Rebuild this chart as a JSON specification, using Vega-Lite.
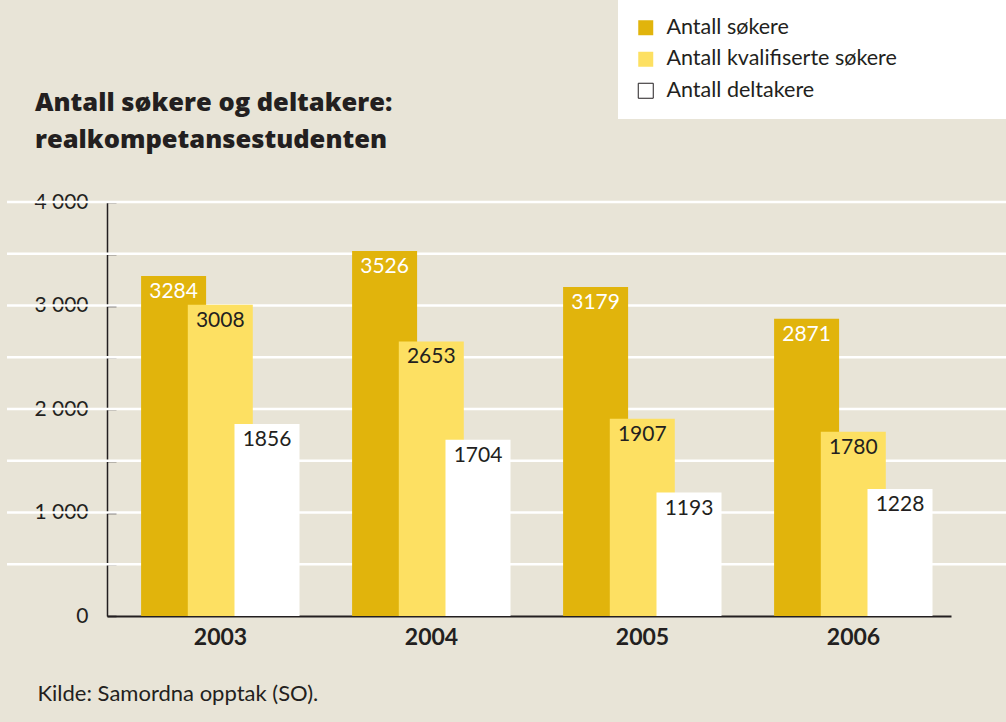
{
  "$schema": "https://vega.github.io/schema/vega-lite/v6.json",
  "width": 999,
  "height": 414,
  "autosize": {"type": "none"},
  "padding": {"left": 7, "top": 202, "right": 0, "bottom": 106},
  "background": "#E8E4D7",
  "config": {
    "view": {"stroke": null},
    "font": "Lato"
  },
  "title": {
    "text": ["Antall søkere og deltakere:", "realkompetansestudenten"],
    "anchor": "start",
    "frame": "group",
    "font": "Open Sans",
    "fontSize": 25.5,
    "fontWeight": 800,
    "color": "#231f20",
    "lineHeight": 37,
    "dx": 28,
    "offset": 20,
    "dy": 173
  },
  "data": {
    "values": [
      {"year": "2003", "series": "Antall søkere", "value": 3284},
      {"year": "2003", "series": "Antall kvalifiserte søkere", "value": 3008},
      {"year": "2003", "series": "Antall deltakere", "value": 1856},
      {"year": "2004", "series": "Antall søkere", "value": 3526},
      {"year": "2004", "series": "Antall kvalifiserte søkere", "value": 2653},
      {"year": "2004", "series": "Antall deltakere", "value": 1704},
      {"year": "2005", "series": "Antall søkere", "value": 3179},
      {"year": "2005", "series": "Antall kvalifiserte søkere", "value": 1907},
      {"year": "2005", "series": "Antall deltakere", "value": 1193},
      {"year": "2006", "series": "Antall søkere", "value": 2871},
      {"year": "2006", "series": "Antall kvalifiserte søkere", "value": 1780},
      {"year": "2006", "series": "Antall deltakere", "value": 1228}
    ]
  },
  "layer": [
    {
      "data": {
        "values": [
          {"level": 500}, {"level": 1000}, {"level": 1500}, {"level": 2000},
          {"level": 2500}, {"level": 3000}, {"level": 3500}, {"level": 4000}
        ]
      },
      "mark": {"type": "rule", "color": "#FFFFFF", "strokeWidth": 2.5},
      "encoding": {
        "y": {"field": "level", "type": "quantitative"}
      }
    },
    {
      "mark": {"type": "bar", "width": 65},
      "encoding": {
        "x": {
          "field": "year",
          "type": "nominal",
          "scale": {"range": [100, 944], "paddingInner": 0, "paddingOuter": 0},
          "axis": {
            "orient": "bottom",
            "domain": true,
            "domainColor": "#231f20",
            "domainWidth": 2,
            "ticks": false,
            "labelAngle": 0,
            "labelFont": "Lato",
            "labelFontSize": 23,
            "labelFontWeight": "bold",
            "labelColor": "#231f20",
            "labelPadding": 10,
            "labelOffset": 8,
            "title": "Kilde: Samordna opptak (SO).",
            "titleFont": "Lato",
            "titleFontSize": 22,
            "titleFontWeight": "normal",
            "titleColor": "#231f20",
            "titleAngle": 0,
            "titleAlign": "left",
            "titleBaseline": "alphabetic",
            "titleAnchor": "start",
            "titleX": 30,
            "titleY": 84
          }
        },
        "xOffset": {
          "field": "series",
          "type": "nominal",
          "sort": ["Antall søkere", "Antall kvalifiserte søkere", "Antall deltakere"],
          "scale": {"paddingInner": 0, "paddingOuter": 0.759, "align": 0.61}
        },
        "y": {
          "field": "value",
          "type": "quantitative",
          "scale": {"domain": [0, 4000], "nice": false},
          "axis": {
            "orient": "left",
            "offset": -100,
            "values": [0, 500, 1000, 1500, 2000, 2500, 3000, 3500, 4000],
            "labelExpr": "datum.value % 1000 == 0 ? replace(format(datum.value, ','), ',', ' ') : ''",
            "grid": false,
            "domainColor": "#231f20",
            "domainWidth": 1.5,
            "tickColor": "#231f20",
            "tickWidth": 1.5,
            "tickSize": -9,
            "labelFont": "Lato",
            "labelFontSize": 21,
            "labelColor": "#231f20",
            "labelPadding": 28,
            "title": null
          }
        },
        "color": {
          "field": "series",
          "type": "nominal",
          "scale": {
            "domain": ["Antall søkere", "Antall kvalifiserte søkere", "Antall deltakere"],
            "range": ["#E1B40C", "#FDE062", "#FFFFFF"]
          },
          "legend": {
            "orient": "none",
            "legendX": 611,
            "legendY": -202,
            "title": null,
            "fillColor": "#FFFFFF",
            "padding": 17,
            "symbolType": "square",
            "symbolSize": 225,
            "symbolStrokeWidth": 1,
            "labelFont": "Lato",
            "labelFontSize": 21.5,
            "labelLimit": 1000,
            "labelColor": "#231f20",
            "labelOffset": 10,
            "rowPadding": 8.5,
            "labelExpr": "indexof(datum.label, 'kvalifiserte') >= 0 ? datum.label + '\u2800\u2800\u2800\u2800\u2800\u2800' : datum.label",
            "encode": {
              "symbols": {
                "update": {
                  "stroke": {"signal": "datum.value == 'Antall deltakere' ? '#231f20' : 'transparent'"}
                }
              }
            }
          }
        }
      }
    },
    {
      "mark": {
        "type": "text",
        "baseline": "top",
        "align": "center",
        "dy": 5,
        "font": "Lato",
        "fontSize": 21
      },
      "encoding": {
        "x": {"field": "year", "type": "nominal"},
        "xOffset": {
          "field": "series",
          "type": "nominal",
          "sort": ["Antall søkere", "Antall kvalifiserte søkere", "Antall deltakere"]
        },
        "y": {"field": "value", "type": "quantitative"},
        "text": {"field": "value", "type": "quantitative", "format": "d"},
        "color": {
          "condition": {"test": "datum.series === 'Antall søkere'", "value": "#FFFFFF"},
          "value": "#231f20"
        }
      }
    }
  ]
}
